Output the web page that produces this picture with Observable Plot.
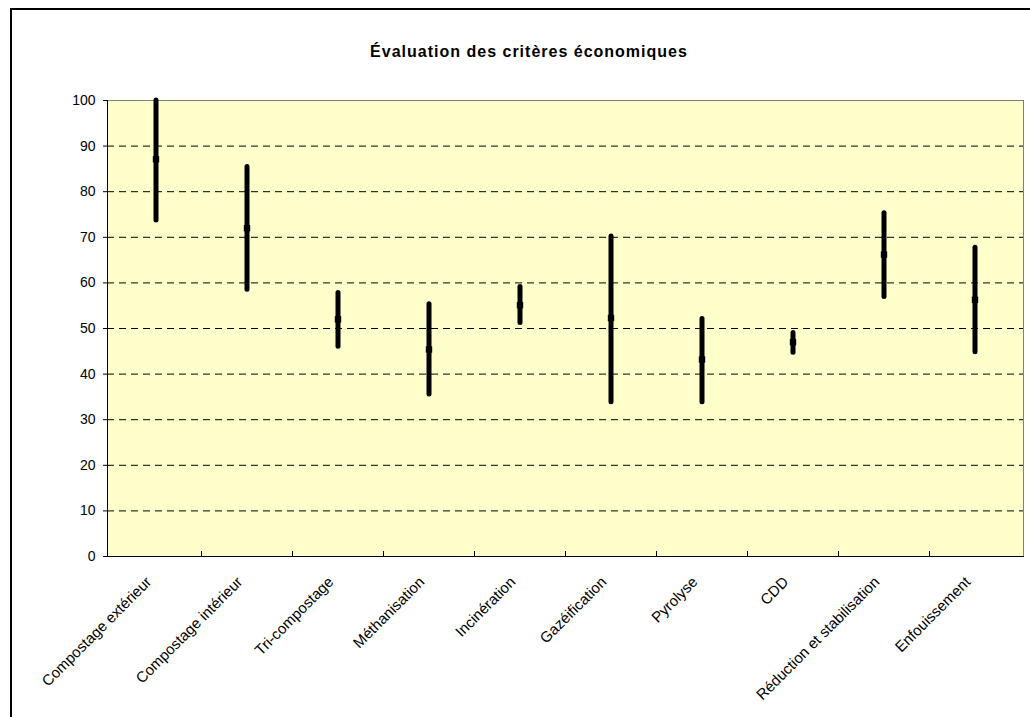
<!DOCTYPE html>
<html>
<head>
<meta charset="utf-8">
<script src="https://cdn.jsdelivr.net/npm/d3@7"></script>
<script src="https://cdn.jsdelivr.net/npm/@observablehq/plot@0.6"></script>
<style>
  html, body { margin: 0; padding: 0; background: #fff; }
  #wrap { position: relative; width: 1030px; height: 717px; overflow: hidden; }
  #border { position: absolute; left: 10px; top: 8px; width: 1100px; height: 800px; border: 2px solid #000; box-sizing: border-box; }
  #title { position: absolute; left: 14px; top: 43px; width: 1030px; text-align: center; font: bold 16px "Liberation Sans", Arial, sans-serif; letter-spacing: 1px; color: #000; }
  #chart { position: absolute; left: 0; top: 0; }
</style>
</head>
<body>
<div id="wrap">
  <div id="border"></div>
  <div id="chart"></div>
  <div id="title">Évaluation des critères économiques</div>
</div>
<script>
const categories = ["Compostage extérieur", "Compostage intérieur", "Tri-compostage", "Méthanisation", "Incinération", "Gazéification", "Pyrolyse", "CDD", "Réduction et stabilisation", "Enfouissement"];
const lows  = [73.7, 58.5, 46.0, 35.5, 51.2, 33.8, 33.8, 44.7, 56.9, 44.8];
const highs = [100,  85.4, 57.8, 55.3, 59.1, 70.2, 52.1, 49.0, 75.3, 67.7];
const mids  = [87.1, 72.0, 52.0, 45.4, 55.1, 52.3, 43.2, 47.0, 66.2, 56.3];
const yTicks = [0, 10, 20, 30, 40, 50, 60, 70, 80, 90, 100];

const data = categories.map((c, i) => ({cat: c, low: lows[i], high: highs[i], mid: mids[i]}));

const W = 1030, H = 717, mL = 107, mR = 7, mT = 100, mB = 161;

// boundary tick marks between categories, pointing up into the plot
function bandTicks(index, scales, values, dimensions) {
  const g = d3.create("svg:g");
  const y0 = dimensions.height - dimensions.marginBottom;
  for (const c of categories.slice(1)) {
    const x = Math.round(scales.x(c)) + 0.5;
    g.append("line").attr("x1", x).attr("x2", x).attr("y1", y0).attr("y2", y0 - 5)
      .attr("stroke", "#000").attr("stroke-width", 1);
  }
  return g.node();
}

const chart = Plot.plot({
  width: W, height: H,
  marginLeft: mL, marginRight: mR, marginTop: mT, marginBottom: mB,
  style: {fontFamily: '"Liberation Sans", Arial, sans-serif', fontSize: "12px", background: "transparent", color: "#000"},
  x: {type: "band", domain: categories, padding: 0},
  y: {domain: [0, 100]},
  marks: [
    Plot.frame({fill: "#FFFFCC", stroke: "#808080"}),
    Plot.ruleY(yTicks.filter(t => t > 0 && t < 100), {stroke: "#000", strokeWidth: 1, strokeDasharray: "7,5"}),
    Plot.frame({anchor: "left", stroke: "#000"}),
    Plot.frame({anchor: "bottom", stroke: "#000"}),
    bandTicks,
    Plot.axisY({ticks: yTicks, tickSize: 4, tickPadding: 8, fontSize: 14, label: null}),
    Plot.axisX({tickSize: 0, tickRotate: -45, tickPadding: 23, fontSize: 15, label: null, dx: -7}),
    Plot.ruleX(data, {x: "cat", y1: "low", y2: "high", stroke: "#000", strokeWidth: 5, strokeLinecap: "round"}),
    Plot.dot(data, {x: "cat", y: "mid", symbol: "square", r: 3.6, fill: "#000", stroke: "none"})
  ]
});
document.getElementById("chart").appendChild(chart);
</script>
</body>
</html>
